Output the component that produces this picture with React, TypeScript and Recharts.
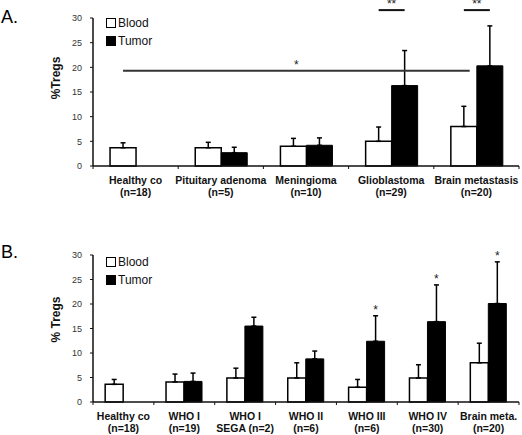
import React from 'react';
import { BarChart, Bar, XAxis, YAxis, ErrorBar } from 'recharts';

const FONT = '"Liberation Sans", Arial, Helvetica, sans-serif';

// Panel A
const groupsA = ['Healthy co', 'Pituitary adenoma', 'Meningioma', 'Glioblastoma', 'Brain metastasis'];
const countsA = ['(n=18)', '(n=5)', '(n=10)', '(n=29)', '(n=20)'];
const bloodA = [3.7, 3.7, 4.0, 5.0, 8.0];
const bloodErrA = [1.0, 1.1, 1.6, 2.9, 4.1];
const tumorA: (number | null)[] = [null, 2.7, 4.2, 16.3, 20.3];
const tumorErrA: (number | null)[] = [null, 1.1, 1.5, 7.1, 8.1];

// Panel B
const groupsB = ['Healthy co', 'WHO I', 'WHO I', 'WHO II', 'WHO III', 'WHO IV', 'Brain meta.'];
const countsB = ['(n=18)', '(n=19)', 'SEGA (n=2)', '(n=6)', '(n=6)', '(n=30)', '(n=20)'];
const bloodB = [3.6, 4.1, 4.9, 4.9, 3.0, 4.9, 8.0];
const bloodErrB = [1.0, 1.6, 2.0, 3.1, 1.6, 2.7, 4.0];
const tumorB: (number | null)[] = [null, 4.2, 15.5, 8.8, 12.4, 16.4, 20.1];
const tumorErrB: (number | null)[] = [null, 1.7, 1.8, 1.6, 5.2, 7.5, 8.5];
const starsB = [false, false, false, false, true, true, true];

const yTicks = [0, 5, 10, 15, 20, 25, 30];

// significance brackets in panel A: from one bar to another, at a given % level
const sigA = [
  { from: 0, fromBar: 'blood', to: 4, toBar: 'blood', level: 19.3, mark: '*' },
  { from: 3, fromBar: 'blood', to: 3, toBar: 'tumor', level: 31.6, mark: '**' },
  { from: 4, fromBar: 'blood', to: 4, toBar: 'tumor', level: 31.6, mark: '**' },
];

// two bars, barCategoryGap 20% -> each bar is 30% of a category
const BAR_FRACTION = 0.3;

const buildRows = (
  blood: number[],
  bloodErr: number[],
  tumor: (number | null)[],
  tumorErr: (number | null)[]
) =>
  blood.map((b, i) => ({
    id: i,
    blood: b,
    bloodErr: [0, bloodErr[i]],
    tumor: tumor[i],
    tumorErr: tumorErr[i] == null ? null : [0, tumorErr[i]],
  }));

const rowsA = buildRows(bloodA, bloodErrA, tumorA, tumorErrA);
const rowsB = buildRows(bloodB, bloodErrB, tumorB, tumorErrB);

const makeTick = (top: string[], bottom: string[]) => (props: any) => {
  const { x, y, payload, width, visibleTicksCount, index } = props;
  const i = payload.value;
  const half = payload.offset || width / visibleTicksCount / 2;
  const last = index === visibleTicksCount - 1;
  return (
    <g>
      <line x1={x - half} x2={x - half} y1={y} y2={y + 3} stroke="#111" />
      {last && <line x1={x + half} x2={x + half} y1={y} y2={y + 3} stroke="#111" />}
      <text x={x} y={y} textAnchor="middle" fontFamily={FONT} fontSize={10.5} fontWeight="bold" fill="#111">
        <tspan x={x} dy={18}>{top[i]}</tspan>
        <tspan x={x} dy={12}>{bottom[i]}</tspan>
      </text>
    </g>
  );
};

const makeYLabel = (text: string, shift: number) => (props: any) => {
  const vb = props.viewBox || { x: 0, y: 0, width: 93, height: 148 };
  const cx = vb.x + 56;
  const cy = vb.y + vb.height / 2 + shift;
  return (
    <text
      x={cx}
      y={cy}
      transform={`rotate(-90 ${cx} ${cy})`}
      textAnchor="middle"
      dominantBaseline="central"
      fontFamily={FONT}
      fontSize={12}
      fontWeight="bold"
      fill="#111"
    >
      {text}
    </text>
  );
};

// brackets drawn from the geometry of the bar they start on
const bracketLabel = (props: any) => {
  const { x, y, width, height, value, index } = props;
  const marks = sigA.filter((s) => s.from === index);
  if (!marks.length || !value) return null;
  const k = height / value;
  const zero = y + height;
  const cat = width / BAR_FRACTION;
  return (
    <g>
      {marks.map((s, j) => {
        const x1 = x + width / 2 + (s.fromBar === 'tumor' ? width : 0);
        const x2 = x + width / 2 + (s.to - s.from) * cat + (s.toBar === 'tumor' ? width : 0);
        const ly = zero - s.level * k;
        return (
          <g key={j}>
            <line x1={x1} x2={x2} y1={ly} y2={ly} stroke={s.level < 30 ? '#333' : '#111'} strokeWidth={2} />
            <text x={(x1 + x2) / 2} y={ly - 2} textAnchor="middle" fontFamily={FONT} fontSize={12} fill="#222">
              {s.mark}
            </text>
          </g>
        );
      })}
    </g>
  );
};

// null tumor values are skipped by the bar, so look the group up by value
const starLabel = (props: any) => {
  const { x, y, width, height, value } = props;
  const i = tumorB.indexOf(value);
  if (i < 0 || !starsB[i] || !value) return null;
  const k = height / value;
  const top = y - (tumorErrB[i] as number) * k;
  return (
    <text x={x + width / 2} y={top - 2} textAnchor="middle" fontFamily={FONT} fontSize={12} fill="#222">
      *
    </text>
  );
};

const LegendBox = ({ left, top }: { left: number; top: number }) => (
  <div style={{ position: 'absolute', left, top, fontFamily: FONT, fontSize: 12, lineHeight: '18px', color: '#111' }}>
    {[
      { name: 'Blood', fill: '#fff' },
      { name: 'Tumor', fill: '#000' },
    ].map((s) => (
      <div key={s.name} style={{ display: 'flex', alignItems: 'center' }}>
        <span
          style={{
            display: 'inline-block',
            width: 10,
            height: 10,
            boxSizing: 'border-box',
            border: '1.5px solid #000',
            background: s.fill,
            marginRight: 2,
          }}
        />
        {s.name}
      </div>
    ))}
  </div>
);

const axisLine = { stroke: '#111', strokeWidth: 1.5 };

interface PanelProps {
  rows: any[];
  top: string[];
  bottom: string[];
  yLabel: string;
  labelShift: number;
  marginTop: number;
  catHeight: number;
  bloodLabel?: any;
  tumorLabel?: any;
}

const Panel = ({ rows, top, bottom, yLabel, labelShift, marginTop, catHeight, bloodLabel, tumorLabel }: PanelProps) => (
  <BarChart
    width={522}
    height={215}
    data={rows}
    margin={{ top: marginTop, right: 3, left: 0, bottom: 0 }}
    barCategoryGap="20%"
    barGap={0}
  >
    <XAxis
      dataKey="id"
      type="category"
      interval={0}
      axisLine={axisLine}
      tickLine={false}
      tickSize={0}
      tickMargin={0}
      height={catHeight}
      tick={makeTick(top, bottom)}
    />
    <YAxis
      domain={[0, 30]}
      ticks={yTicks}
      width={93}
      tickSize={3}
      tickMargin={8}
      axisLine={axisLine}
      tickLine={{ stroke: '#111', strokeWidth: 1 }}
      tick={{ fontSize: 9, fill: '#333', fontFamily: FONT }}
      label={makeYLabel(yLabel, labelShift)}
    />
    <Bar dataKey="blood" fill="#fff" stroke="#000" strokeWidth={1.5} isAnimationActive={false} label={bloodLabel}>
      <ErrorBar dataKey="bloodErr" width={2.5} stroke="#000" strokeWidth={1.5} direction="y" />
    </Bar>
    <Bar dataKey="tumor" fill="#000" stroke="#000" strokeWidth={1} isAnimationActive={false} label={tumorLabel}>
      <ErrorBar dataKey="tumorErr" width={2.5} stroke="#000" strokeWidth={1.5} direction="y" />
    </Bar>
  </BarChart>
);

export default function App() {
  return (
    <div style={{ position: 'absolute', left: 0, top: 0, width: 522, height: 435, background: '#fff' }}>
      <div style={{ position: 'absolute', left: 1, top: 8, fontFamily: FONT, fontSize: 18, lineHeight: '18px' }}>A.</div>
      <div style={{ position: 'absolute', left: 1, top: 243, fontFamily: FONT, fontSize: 18, lineHeight: '18px' }}>B.</div>

      <div style={{ position: 'absolute', left: 0, top: 0 }}>
        <Panel
          rows={rowsA}
          top={groupsA}
          bottom={countsA}
          yLabel="%Tregs"
          labelShift={-14}
          marginTop={18}
          catHeight={49}
          bloodLabel={bracketLabel}
        />
      </div>

      <div style={{ position: 'absolute', left: 0, top: 220 }}>
        <Panel
          rows={rowsB}
          top={groupsB}
          bottom={countsB}
          yLabel="% Tregs"
          labelShift={-9}
          marginTop={35}
          catHeight={33}
          tumorLabel={starLabel}
        />
      </div>

      <LegendBox left={106} top={14} />
      <LegendBox left={106} top={253} />
    </div>
  );
}
